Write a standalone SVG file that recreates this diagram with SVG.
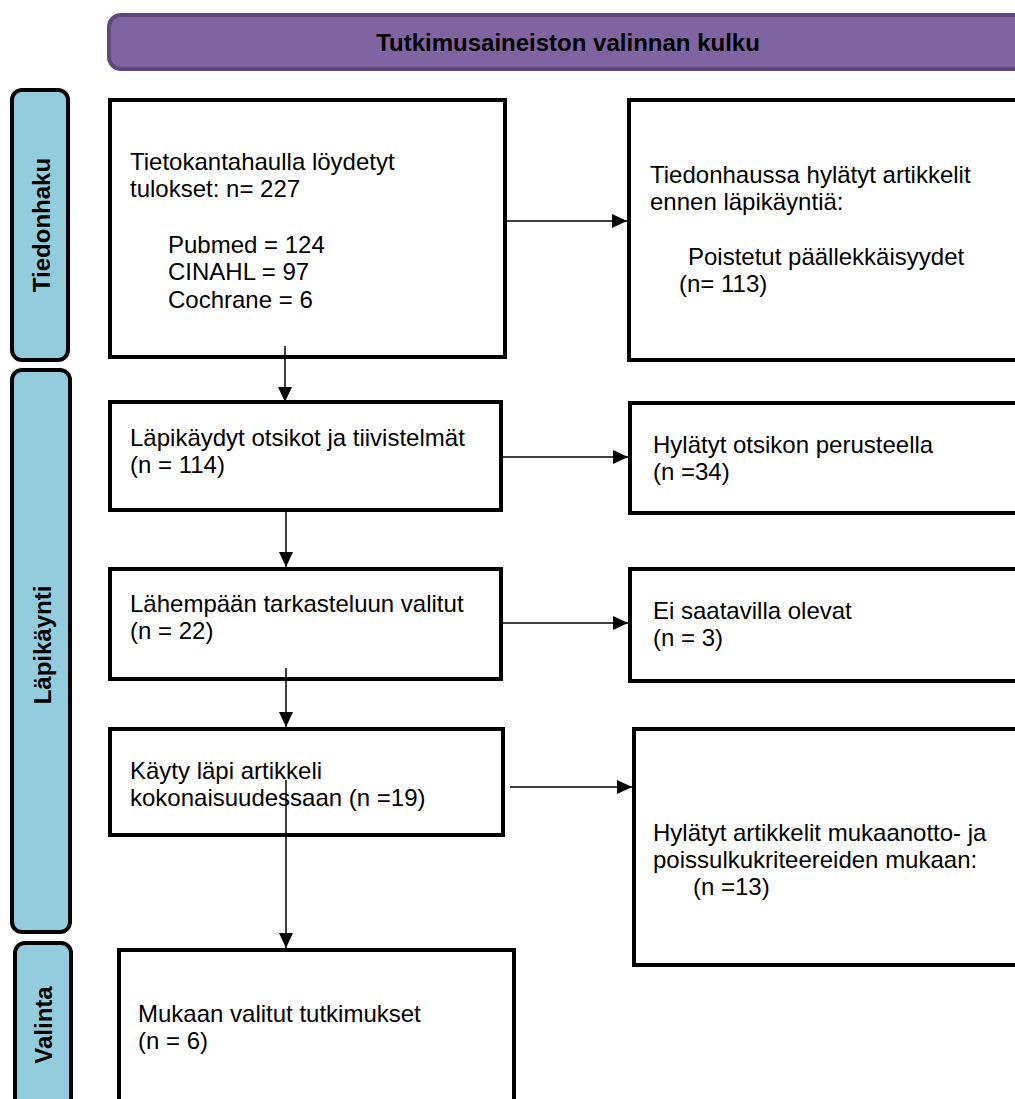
<svg xmlns="http://www.w3.org/2000/svg" width="1015" height="1099" viewBox="0 0 1015 1099">
<style>
.box{fill:#fff;stroke:#000;stroke-width:4}
.side{fill:#93CDDD;stroke:#000;stroke-width:4}
.t{font-family:"Liberation Sans",Arial,sans-serif;font-size:24px;fill:#000}
.s{font-family:"Liberation Sans",Arial,sans-serif;font-size:24px;font-weight:bold;fill:#000;text-anchor:middle}
.c{stroke:#000;stroke-width:1.5;fill:none;marker-end:url(#ah)}
</style>
<defs>
<marker id="ah" markerUnits="userSpaceOnUse" markerWidth="15" markerHeight="14" refX="15" refY="7" orient="auto">
<path d="M0,0 L15,7 L0,14 z" fill="#000"/>
</marker>
</defs>
<rect width="1015" height="1099" fill="#fff"/>
<g id="header">
<rect x="109" y="15" width="940" height="54" rx="12" fill="#8064A2" stroke="#5F497A" stroke-width="4"/>
<text class="s" x="568" y="51">Tutkimusaineiston valinnan kulku</text>
</g>
<g id="stage-tiedonhaku">
<rect class="side" x="12" y="90" width="56" height="270" rx="10"/>
<text class="s" transform="translate(50,225) rotate(-90)">Tiedonhaku</text>
</g>
<g id="stage-lapikaynti">
<rect class="side" x="12" y="370" width="58" height="562" rx="10"/>
<text class="s" transform="translate(51,645) rotate(-90)">Läpikäynti</text>
</g>
<g id="stage-valinta">
<rect class="side" x="15" y="943" width="56" height="180" rx="10"/>
<text class="s" transform="translate(52,1025) rotate(-90)">Valinta</text>
</g>
<g id="n-haku">
<rect class="box" x="110" y="100" width="395" height="257"/>
<text class="t" x="130" y="170">Tietokantahaulla löydetyt</text>
<text class="t" x="130" y="197">tulokset: n= 227</text>
<text class="t" x="168" y="253">Pubmed = 124</text>
<text class="t" x="168" y="280">CINAHL = 97</text>
<text class="t" x="168" y="308">Cochrane = 6</text>
</g>
<g id="n-hylatyt1">
<rect class="box" x="629" y="100" width="420" height="260"/>
<text class="t" x="650" y="183">Tiedonhaussa hylätyt artikkelit</text>
<text class="t" x="650" y="210">ennen läpikäyntiä:</text>
<text class="t" x="688" y="265">Poistetut päällekkäisyydet</text>
<text class="t" x="679" y="292">(n= 113)</text>
</g>
<g id="n-lapikaydyt">
<rect class="box" x="110" y="402" width="391" height="108"/>
<text class="t" x="130" y="446">Läpikäydyt otsikot ja tiivistelmät</text>
<text class="t" x="130" y="473">(n = 114)</text>
</g>
<g id="n-hylatyt2">
<rect class="box" x="630" y="403" width="420" height="110"/>
<text class="t" x="653" y="453">Hylätyt otsikon perusteella</text>
<text class="t" x="653" y="480">(n =34)</text>
</g>
<g id="n-lahempaan">
<rect class="box" x="110" y="569" width="391" height="110"/>
<text class="t" x="130" y="612">Lähempään tarkasteluun valitut</text>
<text class="t" x="130" y="639">(n = 22)</text>
</g>
<g id="n-eisaatavilla">
<rect class="box" x="630" y="569" width="420" height="112"/>
<text class="t" x="653" y="619">Ei saatavilla olevat</text>
<text class="t" x="653" y="646">(n = 3)</text>
</g>
<g id="n-kayty">
<rect class="box" x="110" y="729" width="393" height="106"/>
<text class="t" x="130" y="779">Käyty läpi artikkeli</text>
<text class="t" x="130" y="806">kokonaisuudessaan (n =19)</text>
</g>
<g id="n-hylatyt3">
<rect class="box" x="634" y="729" width="420" height="236"/>
<text class="t" x="653" y="841">Hylätyt artikkelit mukaanotto- ja</text>
<text class="t" x="653" y="868">poissulkukriteereiden mukaan:</text>
<text class="t" x="693" y="895">(n =13)</text>
</g>
<g id="n-mukaan">
<rect class="box" x="119" y="950" width="395" height="200"/>
<text class="t" x="138" y="1022">Mukaan valitut tutkimukset</text>
<text class="t" x="138" y="1049">(n = 6)</text>
</g>
<g id="connectors">
<line class="c" x1="507" y1="221" x2="627" y2="221"/>
<line class="c" x1="503" y1="457" x2="628" y2="457"/>
<line class="c" x1="503" y1="623" x2="628" y2="623"/>
<line class="c" x1="510" y1="787" x2="632" y2="787"/>
<line class="c" x1="285" y1="346" x2="285" y2="402"/>
<line class="c" x1="286" y1="510" x2="286" y2="567"/>
<line class="c" x1="286" y1="668" x2="286" y2="727"/>
<line class="c" x1="286" y1="780" x2="286" y2="948"/>
</g>
</svg>
